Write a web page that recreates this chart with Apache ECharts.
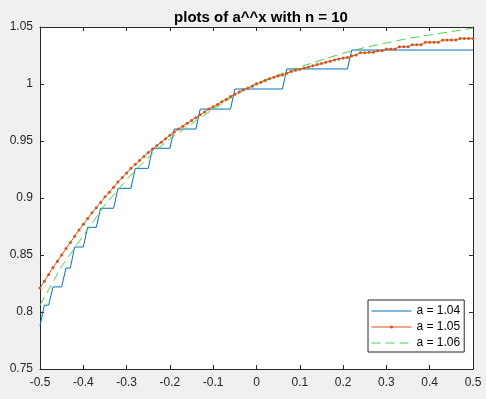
<!DOCTYPE html>
<html>
<head>
<meta charset="utf-8">
<script src="https://cdn.jsdelivr.net/npm/echarts@6/dist/echarts.min.js"></script>
<style>
  html, body { margin: 0; padding: 0; background: #f0f0f0; }
  #chart { width: 486px; height: 399px; }
</style>
</head>
<body>
<div id="chart"></div>
<script>
// sample grid used by the a = 1.05 curve (linspace(-0.5, 0.5, 101))
const xGrid = Array.from({ length: 101 }, (_, i) => -0.5 + i / 100);

// a = 1.05, one value per marker
const redY = [
  0.821, 0.827, 0.833, 0.839, 0.8445, 0.850, 0.8556, 0.861, 0.8665, 0.872,
  0.877, 0.882, 0.887, 0.8915, 0.896, 0.901, 0.905, 0.9095, 0.914, 0.918,
  0.922, 0.926, 0.9295, 0.933, 0.9365, 0.940, 0.943, 0.946, 0.949, 0.952,
  0.955, 0.958, 0.9605, 0.963, 0.9655, 0.968, 0.9705, 0.973, 0.9755, 0.978,
  0.980, 0.982, 0.9845, 0.9865, 0.989, 0.991, 0.993, 0.995, 0.9965, 0.998,
  1.000, 1.0015, 1.003, 1.0045, 1.006, 1.007, 1.008, 1.0095, 1.011, 1.012,
  1.013, 1.014, 1.015, 1.016, 1.017, 1.018, 1.019, 1.020, 1.021, 1.022,
  1.0228, 1.0232, 1.0245, 1.0255, 1.0275, 1.0275, 1.0278, 1.0278, 1.0292, 1.0292,
  1.0307, 1.0307, 1.0307, 1.0327, 1.0327, 1.0327, 1.0345, 1.0345, 1.0345, 1.0366,
  1.0366, 1.0366, 1.0366, 1.0386, 1.0386, 1.0386, 1.0386, 1.040, 1.040, 1.040,
  1.040
];

// a = 1.04, the corners of the staircase
const blueX = [-0.50, -0.49, -0.48, -0.47, -0.45, -0.44, -0.43, -0.42, -0.40, -0.39,
  -0.37, -0.36, -0.33, -0.32, -0.29, -0.28, -0.25, -0.24, -0.20, -0.19,
  -0.14, -0.13, -0.06, -0.05, 0.06, 0.07, 0.21, 0.22, 0.50];
const blueY = [0.788, 0.806, 0.806, 0.822, 0.822, 0.8385, 0.8385, 0.857, 0.857, 0.8743,
  0.8743, 0.891, 0.891, 0.9085, 0.9085, 0.926, 0.926, 0.9436, 0.9436, 0.9605,
  0.9605, 0.978, 0.978, 0.9956, 0.9956, 1.0132, 1.0132, 1.0298, 1.0298];

// a = 1.06
const greenX = [-0.50, -0.45, -0.40, -0.35, -0.30, -0.25, -0.20, -0.15, -0.10, -0.05,
  0.00, 0.05, 0.10, 0.15, 0.20, 0.25, 0.30, 0.35, 0.40, 0.45, 0.50];
const greenY = [0.806, 0.840, 0.867, 0.894, 0.916, 0.936, 0.952, 0.965, 0.978, 0.990,
  1.001, 1.008, 1.015, 1.021, 1.027, 1.032, 1.036, 1.040, 1.043, 1.046, 1.049];

const seriesNames = ['a = 1.04', 'a = 1.05', 'a = 1.06'];

const zip = (xs, ys) => xs.map((x, i) => [x, ys[i]]);

const font = '"Liberation Sans", Arial, sans-serif';
const ink = '#262626';

function xAxisOf(pos, labels) {
  return {
    type: 'value', position: pos, min: -0.5, max: 0.5, interval: 0.1,
    axisLine: { show: true, onZero: false, lineStyle: { color: ink, width: 1 } },
    axisTick: { show: true, inside: true, length: 4, lineStyle: { color: ink } },
    axisLabel: {
      show: labels, color: ink, fontSize: 12, fontFamily: font, margin: 8,
      formatter: v => String(+v.toFixed(1))
    },
    splitLine: { show: false }
  };
}

function yAxisOf(pos, labels) {
  return {
    type: 'value', position: pos, min: 0.75, max: 1.05, interval: 0.05,
    axisLine: { show: true, onZero: false, lineStyle: { color: ink, width: 1 } },
    axisTick: { show: true, inside: true, length: 4, lineStyle: { color: ink } },
    axisLabel: {
      show: labels, color: ink, fontSize: 12, fontFamily: font, margin: 7,
      formatter: v => String(+v.toFixed(2))
    },
    splitLine: { show: false }
  };
}

const chart = echarts.init(document.getElementById('chart'));

chart.setOption({
  animation: false,
  backgroundColor: '#f0f0f0',
  title: {
    text: 'plots of a^^x with n = 10',
    left: 256, top: 5, textAlign: 'center',
    textStyle: { fontSize: 15, fontWeight: 'bold', color: '#000', fontFamily: font }
  },
  grid: {
    left: 40, right: 13, top: 27, bottom: 30,
    show: true, backgroundColor: '#fff', borderWidth: 0
  },
  xAxis: [xAxisOf('bottom', true), xAxisOf('top', false)],
  yAxis: [yAxisOf('left', true), yAxisOf('right', false)],
  legend: {
    data: [
      { name: seriesNames[0], itemStyle: { opacity: 0 } },
      { name: seriesNames[1] },
      { name: seriesNames[2], itemStyle: { opacity: 0 } }
    ],
    orient: 'vertical', left: 368, top: 300,
    itemWidth: 40, itemHeight: 4, itemGap: 2,
    padding: [4, 4, 2, 3],
    backgroundColor: '#fff', borderColor: ink, borderWidth: 1, borderRadius: 0,
    lineStyle: { width: 1 },
    textStyle: { fontSize: 12, lineHeight: 14, color: '#000', fontFamily: font }
  },
  series: [
    {
      name: seriesNames[0], type: 'line', xAxisIndex: 0, yAxisIndex: 0,
      data: zip(blueX, blueY), symbol: 'none',
      itemStyle: { color: '#0072bd' },
      lineStyle: { color: '#0072bd', width: 1 }
    },
    {
      name: seriesNames[1], type: 'line', xAxisIndex: 0, yAxisIndex: 0,
      data: zip(xGrid, redY), symbol: 'circle', symbolSize: 3,
      itemStyle: { color: '#d95319' },
      lineStyle: { color: '#d95319', width: 1 }
    },
    {
      name: seriesNames[2], type: 'line', xAxisIndex: 0, yAxisIndex: 0,
      data: zip(greenX, greenY), symbol: 'none',
      itemStyle: { color: '#44d844' },
      lineStyle: { color: '#44d844', width: 1, type: [9, 5] }
    }
  ]
});
</script>
</body>
</html>
